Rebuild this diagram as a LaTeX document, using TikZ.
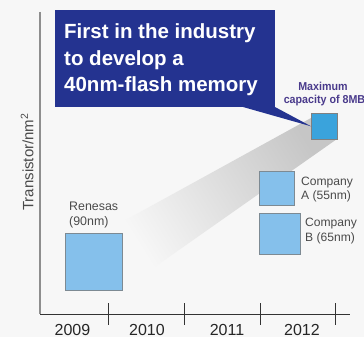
\documentclass[tikz,border=0pt]{standalone}
\usepackage{fontspec}
\setmainfont{Liberation Sans}
\definecolor{bg}{HTML}{F7F7F7}
\definecolor{navy}{HTML}{243390}
\definecolor{lblue}{HTML}{85C0EB}
\definecolor{mblue}{HTML}{3AA3DC}
\definecolor{bordergray}{HTML}{7D8A93}
\definecolor{purp}{HTML}{4A3B8C}
\definecolor{txt}{HTML}{4A4A4A}
\definecolor{beamgray}{HTML}{C6C6C6}
\definecolor{yaxis}{HTML}{8E8E8E}
\definecolor{xaxis}{HTML}{333333}
\begin{document}
\begin{tikzpicture}[x=1pt,y=-1pt,
  chip/.style={draw=bordergray,line width=1pt,fill=lblue,inner sep=0pt,outer sep=0pt},
  lbl/.style={text=txt,font=\fontsize{12.4}{15.5}\selectfont,inner sep=0pt,anchor=base west},
  year/.style={text=black!85,font=\fontsize{16}{18}\selectfont,inner sep=0pt,anchor=base},
  headline/.style={text=white,font=\bfseries\fontsize{20.5}{24}\selectfont,inner sep=0pt,anchor=base west},
  maxlbl/.style={text=purp,font=\bfseries\fontsize{11.5}{13}\selectfont,inner sep=0pt,anchor=base},
  tick/.style={draw=xaxis,line width=1pt}]
\fill[bg] (0,0) rectangle (364,337);
\useasboundingbox (0,0) rectangle (364,337);
% beam
\shade[left color=bg,right color=beamgray,shading angle=122]
  (311,118) -- (337,139) -- (122,290) -- (122,222) -- cycle;
% axes
\coordinate (ytop) at (40,12);
\coordinate (orig) at (40,314);
\coordinate (xend) at (350,314);
\draw[yaxis,line width=1.4pt] (ytop) -- (orig);
\draw[xaxis,line width=1pt] (orig) -- (xend);
\foreach \i/\x in {1/108.7,2/184,3/260,4/335.3}{
  \coordinate (tt\i) at (\x,303);
  \coordinate (tb\i) at (\x,325);
  \draw[tick] (tt\i) -- (tb\i);
}
\node[year] (y2009) at (72.5,335.3) {2009};
\node[year] (y2010) at (147,335.3) {2010};
\node[year] (y2011) at (227,335.3) {2011};
\node[year] (y2012) at (302,335.3) {2012};
% y label
\node[text=txt,font=\fontsize{15}{18}\selectfont,rotate=90,anchor=base,inner sep=0pt] (ylab) at (33.3,162) {Transistor/nm\textsuperscript{2}};
% chips
\node[chip,minimum width=57pt,minimum height=57pt] (ren) at (93.5,261.5) {};
\node[chip,minimum width=35.7pt,minimum height=34pt] (compA) at (276.9,188.7) {};
\node[chip,minimum width=41.7pt,minimum height=41pt] (compB) at (279.9,233.8) {};
\node[chip,fill=mblue,draw=gray,minimum width=26.7pt,minimum height=26pt] (maxchip) at (324.4,126.3) {};
% labels
\node[lbl] (renA) at (69,210) {Renesas};
\node[lbl] (renB) at (69,225.5) {(90nm)};
\node[lbl,font=\fontsize{12.1}{15}\selectfont] (caA) at (301,185) {Company};
\node[lbl,font=\fontsize{12.1}{15}\selectfont] (caB) at (301,199.5) {A (55nm)};
\node[lbl,font=\fontsize{12.1}{15}\selectfont] (cbA) at (305,226.7) {Company};
\node[lbl,font=\fontsize{12.1}{15}\selectfont] (cbB) at (305,241.7) {B (65nm)};
\node[maxlbl] (mx1) at (323,90) {\scalebox{0.93}[1]{Maximum}};
\node[maxlbl] (mx2) at (324.5,103.3) {\scalebox{0.93}[1]{capacity of 8MB}};
% callout
\node[fill=navy,minimum width=220pt,minimum height=97pt,inner sep=0pt,outer sep=0pt] (callout) at (165,58.5) {};
\fill[navy] ([xshift=-32pt]callout.south east) -- (callout.south east) -- (maxchip.west) -- cycle;
\node[headline] (h1) at (64,39) {First in the industry};
\node[headline] (h2) at (64,65.7) {to develop a};
\node[headline] (h3) at (64,91.7) {40nm-flash memory};
\end{tikzpicture}
\end{document}
